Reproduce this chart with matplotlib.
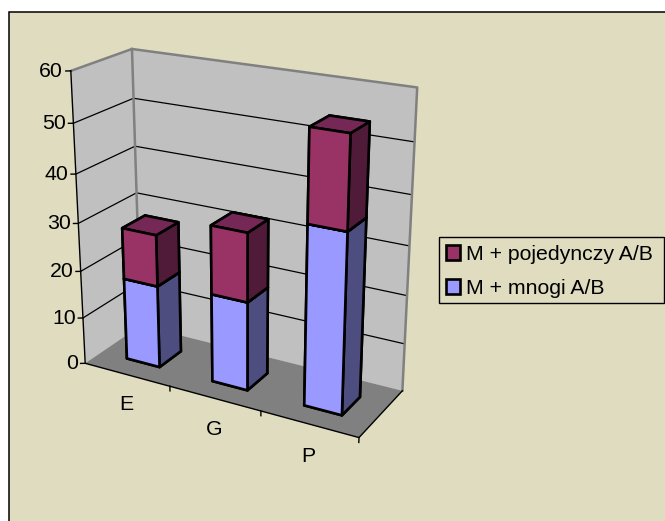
import numpy as np
import matplotlib
matplotlib.use("Agg")
import matplotlib.pyplot as plt
from matplotlib.patches import Patch, Rectangle
from mpl_toolkits.mplot3d.art3d import Poly3DCollection

plt.rcParams['font.family'] = ['Liberation Sans', 'DejaVu Sans']

# Data
categories = ["E", "G", "P"]
mnogi = [17.5, 18.5, 36.5]
pojedynczy = [10.7, 14, 18]
z_ticks = [0, 10, 20, 30, 40, 50, 60]

labels = ["M + pojedynczy A/B", "M + mnogi A/B"]

W, H = 665, 521
bg = "#e0dcc0"

fig = plt.figure(figsize=(W / 100, H / 100), dpi=100, facecolor="white")
fig.add_artist(Rectangle((8.5 / W, -0.02), 1, 1 - 12 / H + 0.02, transform=fig.transFigure,
                         facecolor=bg, edgecolor="black", linewidth=1.1, zorder=-1))

# axes square is as wide as the figure so nothing gets clipped
ax = fig.add_axes([0, (1 - W / H) / 2, 1, W / H], projection="3d", computed_zorder=False)
ax.set_axis_off()
ax.patch.set_visible(False)
for axis in (ax.xaxis, ax.yaxis, ax.zaxis):
    axis.set_visible(False)
    axis.label.set_visible(False)
    axis.offsetText.set_visible(False)
for title in (ax.title, ax._left_title, ax._right_title):
    title.set_visible(False)
ax.apply_aspect()

# camera solved from where the chart box corners should land on the canvas
box = [(0, 0, 0), (3, 0, 0), (3, 1, 0), (0, 1, 0), (0, 0, 60), (0, 1, 60), (3, 1, 60)]
px = [(85, 364.3), (359, 436.7), (402.3, 391.7), (141, 324.5),
      (71, 70.7), (131.7, 49.3), (417.3, 87.3)]
inv = ax.transData.inverted()
A, b = [], []
for (x, y, z), (u, v) in zip(box, px):
    u, v = inv.transform((u, H - v))
    A.append([x, y, z, 1, 0, 0, 0, 0, -u * x, -u * y, -u * z])
    A.append([0, 0, 0, 0, x, y, z, 1, -v * x, -v * y, -v * z])
    b += [u, v]
p = np.linalg.lstsq(np.array(A), np.array(b), rcond=None)[0]
M = np.array([p[:4], p[4:8], [0, 0, 0, -1], [p[8], p[9], p[10], 1]])
ax.get_proj = lambda: M
ax.M = M

# walls and floor
ax.add_collection3d(Poly3DCollection([[(0, 0, 0), (0, 1, 0), (0, 1, 60), (0, 0, 60)],
                                      [(0, 1, 0), (3, 1, 0), (3, 1, 60), (0, 1, 60)]],
                                     facecolor="#c0c0c0", edgecolor="none", zorder=1))
ax.add_collection3d(Poly3DCollection([[(0, 0, 0), (3, 0, 0), (3, 1, 0), (0, 1, 0)]],
                                     facecolor="#808080", edgecolor="none", zorder=2))

# grid
for t in z_ticks[1:-1]:
    ax.plot([0, 0, 3], [0, 1, 1], [t, t, t], color="black", lw=0.9, zorder=3)

# box outline
ax.plot([0, 0, 3, 3], [0, 1, 1, 1], [60, 60, 60, 0], color="#808080", lw=1.8, zorder=4)
ax.plot([0, 0], [1, 1], [0, 60], color="#808080", lw=1.8, zorder=4)
ax.plot([0, 0, 3, 3], [0, 0, 0, 1], [60, 0, 0, 0], color="black", lw=1.0, zorder=5)

# ticks
for t in z_ticks:
    ax.plot([0, -0.039], [0, -0.024], [t, t], color="black", lw=1.0, zorder=5)
    ax.text(-0.06, -0.04, t, str(t), ha="right", va="center", fontsize=15.3)
for i in range(1, len(categories) + 1):
    ax.plot([i, i], [0, 0], [0, -1], color="black", lw=1.0, zorder=5)
for i, c in enumerate(categories):
    ax.text(i + 0.55, -0.1, -5.5, c, ha="center", va="center", fontsize=15.3)

# stacked bars
bar_w = 0.39
bar_d = 0.40
bar_y = 0.29
blue = ["#4d4d80", "#4d4d80", "#9999ff", "#4d4d80", "#4d4d80", "#4d4d80"]
maroon = ["#4f1b38", "#752755", "#993366", "#4f1b38", "#4f1b38", "#4f1b38"]
for i in range(len(categories)):
    x0 = i + 0.5 - bar_w / 2
    ax.bar3d(x0, bar_y, 0, bar_w, bar_d, mnogi[i], color=blue, edgecolor="black",
             linewidth=1.9, shade=False, zorder=10 + 2 * i)
    ax.bar3d(x0, bar_y, mnogi[i], bar_w, bar_d, pojedynczy[i], color=maroon, edgecolor="black",
             linewidth=1.9, shade=False, zorder=11 + 2 * i)

# legend, box drawn separately so its size stays fixed
fig.add_artist(Rectangle((439 / W, 1 - 303 / H), 225 / W, 66.5 / H, transform=fig.transFigure,
                         facecolor="none", edgecolor="black", linewidth=1.0))
handles = [Patch(facecolor="#993366", edgecolor="black", linewidth=1.9),
           Patch(facecolor="#9999ff", edgecolor="black", linewidth=1.9)]
fig.legend(handles, labels, loc="upper left", bbox_to_anchor=(437.5 / W, 1 - 236.5 / H),
           borderaxespad=0, fontsize=15.3, frameon=False, handlelength=0.68, handleheight=0.68,
           handletextpad=0.25, borderpad=0.4, labelspacing=0.7)

fig.savefig("out.png", dpi=100)
